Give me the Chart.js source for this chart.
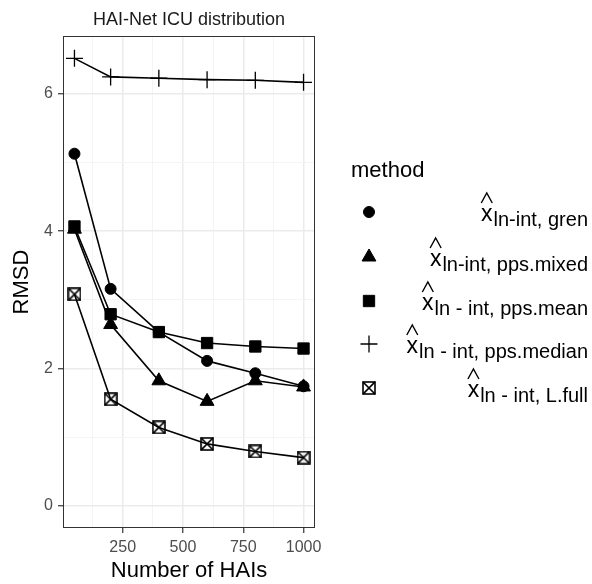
<!DOCTYPE html>
<html>
<head>
<meta charset="utf-8">
<title>HAI-Net ICU distribution</title>
<script src="https://cdn.jsdelivr.net/npm/chart.js@4/dist/chart.umd.min.js"></script>
<style>
  html, body { margin: 0; padding: 0; background: #fff; }
  canvas { display: block; }
</style>
</head>
<body>
<canvas id="chart" width="592" height="584"></canvas>
<script>
// values
const nHAIs = [50, 200, 400, 600, 800, 1000];
const gren = [5.13, 3.16, 2.53, 2.11, 1.93, 1.74];
const ppsMixed = [4.03, 2.64, 1.82, 1.52, 1.82, 1.73];
const ppsMean = [4.07, 2.79, 2.53, 2.37, 2.32, 2.29];
const ppsMedian = [6.52, 6.25, 6.23, 6.21, 6.20, 6.17];
const lFull = [3.08, 1.55, 1.14, 0.90, 0.79, 0.70];

const xTicks = [125, 250, 375, 500, 625, 750, 875, 1000];
const yTicks = [0, 1, 2, 3, 4, 5, 6];
const legendSubs = ["ln-int, gren", "ln-int, pps.mixed", "ln - int, pps.mean", "ln - int, pps.median", "ln - int, L.full"];

const FONT = "'Liberation Sans', Arial, sans-serif";

// boxed X marker (ggplot shape 7)
function boxedCross() {
  const c = document.createElement("canvas");
  c.width = 14; c.height = 14;
  const g = c.getContext("2d");
  g.strokeStyle = "#000";
  g.lineWidth = 1.6;
  g.lineCap = "square";
  g.strokeRect(1, 1, 12, 12);
  g.beginPath();
  g.moveTo(1.5, 1.5); g.lineTo(12.5, 12.5);
  g.moveTo(12.5, 1.5); g.lineTo(1.5, 12.5);
  g.stroke();
  return c;
}

const pts = ys => nHAIs.map((x, i) => ({ x: x, y: ys[i] }));

function series(values, style, radius, bw) {
  return {
    data: pts(values),
    borderColor: "#000",
    borderWidth: 1.6,
    backgroundColor: "#000",
    pointStyle: style,
    pointRadius: radius,
    pointHoverRadius: radius,
    pointBackgroundColor: "#000",
    pointBorderColor: "#000",
    pointBorderWidth: bw,
    tension: 0
  };
}

const datasets = [
  series(gren, "circle", 5.5, 1),
  series(ppsMixed, "triangle", 8, 1),
  series(ppsMean, "rect", 8, 1),
  series(ppsMedian, "cross", 8.5, 1.3),
  series(lFull, boxedCross(), 7, 1)
];

const minorOrMajor = (v, step, major, minor) => (Math.abs(v % step) < 1e-6 ? major : minor);

const decor = {
  id: "decor",
  afterDraw(chart) {
    const ctx = chart.ctx;
    const a = chart.chartArea;
    ctx.save();

    // panel border
    ctx.strokeStyle = "#333";
    ctx.lineWidth = 1;
    ctx.strokeRect(a.left + 0.5, a.top + 0.5, a.right - a.left - 1, a.bottom - a.top - 1);

    // title
    ctx.fillStyle = "#1a1a1a";
    ctx.font = "18px " + FONT;
    ctx.textAlign = "center";
    ctx.textBaseline = "alphabetic";
    ctx.fillText("HAI-Net ICU distribution", (a.left + a.right) / 2, 25);

    // legend
    ctx.fillStyle = "#000";
    ctx.textAlign = "left";
    ctx.font = "22px " + FONT;
    ctx.fillText("method", 351, 177);

    const rowY = [212, 257, 301, 344, 388];
    const right = 588;
    chart.data.datasets.forEach((ds, i) => {
      const y = rowY[i];
      ctx.fillStyle = "#000";
      ctx.strokeStyle = "#000";
      ctx.lineWidth = ds.pointBorderWidth;
      Chart.helpers.drawPoint(ctx, {
        pointStyle: ds.pointStyle,
        radius: ds.pointRadius,
        rotation: 0,
        borderWidth: ds.pointBorderWidth
      }, 369, y);

      // subscript
      ctx.font = "20px " + FONT;
      ctx.textAlign = "right";
      ctx.fillText(legendSubs[i], right, y + 14);
      const subW = ctx.measureText(legendSubs[i]).width;
      // x with hat
      ctx.font = "23px " + FONT;
      const xr = right - subW - 1;
      const xw = ctx.measureText("x").width;
      ctx.fillText("x", xr, y + 9);
      const cx = xr - xw / 2;
      ctx.lineWidth = 1.4;
      ctx.beginPath();
      ctx.moveTo(cx - 5.5, y - 9);
      ctx.lineTo(cx, y - 19);
      ctx.lineTo(cx + 5.5, y - 9);
      ctx.stroke();
    });

    ctx.restore();
  }
};

new Chart(document.getElementById("chart"), {
  type: "line",
  data: { datasets: datasets },
  plugins: [decor],
  options: {
    responsive: false,
    animation: false,
    events: [],
    layout: { padding: { top: 36, right: 277, bottom: 0, left: 0 } },
    plugins: {
      legend: { display: false },
      tooltip: { enabled: false },
      title: { display: false }
    },
    scales: {
      x: {
        type: "linear",
        min: 2.5,
        max: 1047.5,
        afterBuildTicks: s => { s.ticks = xTicks.map(v => ({ value: v })); },
        afterFit: s => { s.height = 56; },
        border: { display: false },
        grid: {
          color: c => minorOrMajor(c.tick.value, 250, "#ebebeb", "#f4f4f4"),
          lineWidth: c => minorOrMajor(c.tick.value, 250, 1.5, 1),
          tickColor: c => minorOrMajor(c.tick.value, 250, "#333", "rgba(0,0,0,0)"),
          tickLength: 5,
          tickWidth: 1.2
        },
        ticks: {
          autoSkip: false,
          maxRotation: 0,
          padding: 5,
          color: "#4d4d4d",
          font: { family: FONT, size: 16 },
          callback: v => (v % 250 === 0 ? String(v) : "")
        },
        title: {
          display: true,
          text: "Number of HAIs",
          color: "#000",
          font: { family: FONT, size: 22 },
          padding: { top: 0, bottom: 0 }
        }
      },
      y: {
        type: "linear",
        min: -0.326,
        max: 6.846,
        afterBuildTicks: s => { s.ticks = yTicks.map(v => ({ value: v })); },
        afterFit: s => { s.width = 63; },
        border: { display: false },
        grid: {
          color: c => minorOrMajor(c.tick.value, 2, "#ebebeb", "#f4f4f4"),
          lineWidth: c => minorOrMajor(c.tick.value, 2, 1.5, 1),
          tickColor: c => minorOrMajor(c.tick.value, 2, "#333", "rgba(0,0,0,0)"),
          tickLength: 5,
          tickWidth: 1.2
        },
        ticks: {
          autoSkip: false,
          padding: 5,
          color: "#4d4d4d",
          font: { family: FONT, size: 16 },
          callback: v => (v % 2 === 0 ? String(v) : "")
        },
        title: {
          display: true,
          text: "RMSD",
          color: "#000",
          font: { family: FONT, size: 22 },
          padding: { top: 9, bottom: 0 }
        }
      }
    }
  }
});
</script>
</body>
</html>
